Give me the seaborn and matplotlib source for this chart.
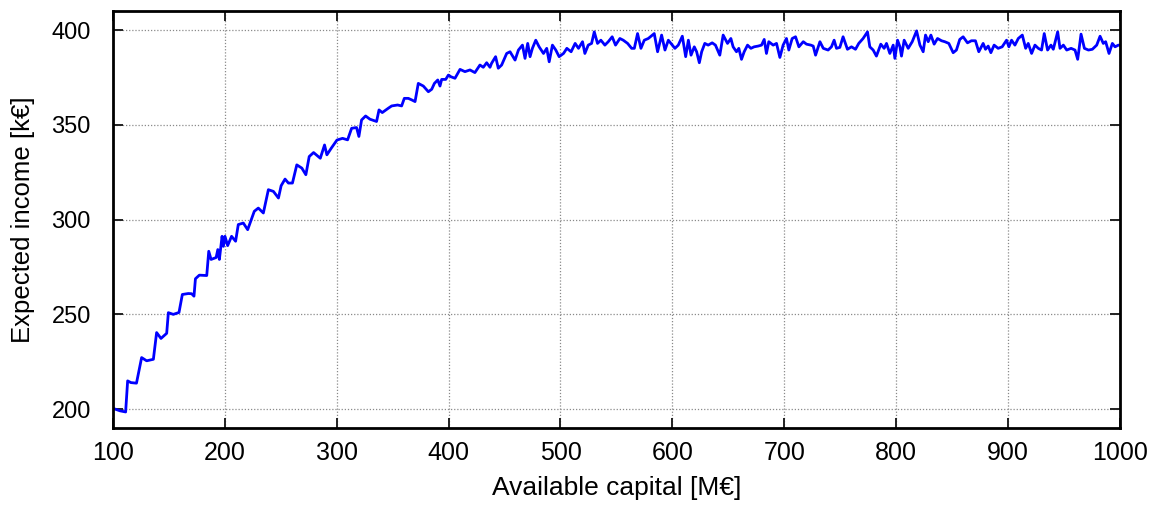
import matplotlib
matplotlib.use("Agg")
import matplotlib.pyplot as plt
import seaborn as sns
import pandas as pd

# Available capital [M€]
capital = [
    100.0, 106.3, 111.3, 113.1, 116.0, 121.0, 125.6, 130.1, 136.1, 139.0, 142.9, 148.0, 149.5, 153.9,
    159.0, 162.0, 167.3, 170.3, 172.4, 173.7, 177.2, 183.8, 185.6, 187.7, 192.2, 193.7, 195.1, 197.5,
    198.7, 200.1, 202.5, 206.0, 209.6, 212.0, 216.5, 220.4, 226.3, 229.9, 234.4, 238.9, 243.4, 247.9,
    250.3, 253.8, 256.8, 260.4, 264.3, 268.8, 272.4, 275.4, 279.3, 285.3, 289.1, 291.2, 295.1, 300.2,
    305.2, 309.7, 313.3, 317.7, 319.8, 322.2, 325.8, 329.7, 335.6, 337.8, 340.7, 346.1, 349.1, 354.4,
    358.0, 360.4, 364.0, 367.0, 370.0, 372.9, 377.4, 381.9, 384.9, 387.3, 390.3, 392.3, 393.8, 397.4,
    399.8, 402.1, 405.7, 410.2, 414.6, 419.1, 423.5, 428.0, 431.0, 434.0, 437.0, 438.4, 442.0, 444.4,
    447.4, 451.9, 454.9, 459.4, 462.4, 466.0, 468.3, 470.7, 472.8, 474.9, 477.9, 480.9, 484.8, 487.7,
    489.9, 492.8, 495.8, 498.8, 502.7, 505.7, 509.5, 513.1, 516.1, 519.7, 521.8, 524.8, 527.8, 530.2,
    533.1, 536.1, 539.7, 542.7, 546.2, 549.2, 553.1, 556.1, 560.0, 563.6, 566.0, 568.9, 571.9, 574.9,
    578.5, 583.8, 586.8, 590.4, 593.4, 596.4, 599.9, 602.3, 605.3, 608.9, 611.9, 614.3, 616.7, 619.6,
    621.7, 624.1, 626.2, 629.0, 632.0, 635.6, 638.5, 642.4, 645.4, 649.3, 652.3, 654.3, 657.3, 659.4,
    661.8, 664.2, 667.2, 670.2, 673.1, 676.7, 679.7, 682.1, 684.1, 686.2, 690.1, 693.1, 696.1, 699.0,
    702.0, 704.1, 707.1, 710.1, 713.1, 717.0, 719.9, 723.8, 725.9, 728.0, 731.9, 734.9, 739.2, 742.2,
    744.6, 746.7, 749.7, 752.6, 756.5, 760.1, 763.7, 766.6, 770.5, 774.4, 776.5, 779.5, 782.4, 786.3,
    789.3, 791.4, 794.4, 797.4, 798.9, 801.3, 803.4, 804.8, 807.2, 810.8, 814.4, 818.3, 821.3, 824.2,
    826.3, 828.7, 831.1, 834.0, 837.0, 840.6, 843.5, 847.1, 851.0, 853.9, 856.9, 859.9, 863.8, 867.3,
    870.9, 873.9, 877.8, 879.9, 882.3, 884.7, 887.6, 891.2, 894.8, 898.7, 900.8, 903.2, 906.2, 909.2,
    912.8, 915.8, 918.1, 921.1, 924.1, 927.1, 930.0, 932.4, 935.4, 938.4, 940.5, 944.4, 946.5, 949.5,
    952.5, 956.4, 959.9, 962.3, 965.3, 968.3, 971.9, 975.4, 979.3, 982.3, 985.2, 987.3, 990.3, 993.3,
    995.7, 998.7, 1000.0,
]

# Expected income [k€]
income = [
    200.4, 199.1, 198.5, 214.9, 214.0, 213.7, 227.2, 225.5, 226.3, 240.4, 237.3, 240.0, 250.9, 250.0,
    251.0, 260.5, 261.0, 260.9, 259.6, 268.8, 270.7, 270.5, 283.3, 279.0, 280.0, 284.2, 279.0, 291.2,
    285.9, 291.2, 286.3, 291.2, 288.6, 297.4, 298.2, 294.7, 304.4, 306.1, 303.5, 315.8, 314.9, 311.4,
    317.9, 321.4, 319.3, 319.3, 328.9, 327.2, 323.7, 333.3, 335.4, 332.4, 339.4, 334.2, 337.7, 342.0,
    342.9, 342.1, 348.2, 348.6, 343.9, 352.6, 354.7, 353.0, 351.8, 357.9, 356.5, 358.8, 360.0, 360.5,
    360.0, 364.0, 364.0, 363.2, 362.3, 371.9, 370.5, 367.5, 368.8, 371.9, 373.7, 370.5, 374.0, 374.0,
    376.3, 375.4, 374.6, 379.3, 378.1, 379.0, 377.6, 381.6, 380.4, 382.8, 380.4, 382.5, 386.0, 379.9,
    381.6, 387.7, 388.6, 384.2, 389.5, 392.1, 385.1, 393.0, 386.0, 390.4, 394.7, 391.2, 387.7, 390.4,
    383.3, 392.1, 389.5, 386.0, 387.7, 390.4, 388.6, 393.0, 390.4, 393.9, 387.7, 392.1, 393.0, 399.1,
    393.0, 394.7, 392.1, 393.9, 396.5, 392.1, 395.6, 394.7, 393.0, 390.4, 390.4, 398.2, 390.4, 394.7,
    395.6, 398.2, 388.6, 397.4, 389.5, 394.7, 392.1, 390.4, 392.1, 396.8, 386.0, 394.7, 386.8, 391.2,
    388.6, 382.8, 388.6, 393.0, 392.1, 393.3, 392.1, 386.8, 397.4, 393.0, 395.6, 391.2, 388.6, 390.4,
    384.6, 388.6, 392.1, 390.4, 391.2, 391.6, 392.1, 395.1, 387.7, 393.9, 392.1, 393.0, 385.6, 392.1,
    395.6, 389.5, 395.6, 396.5, 391.2, 393.9, 392.6, 392.1, 391.6, 386.8, 393.9, 390.4, 389.5, 391.2,
    394.7, 390.4, 390.9, 396.5, 389.9, 391.2, 389.9, 393.0, 395.6, 399.1, 391.2, 389.5, 386.3, 392.6,
    390.4, 393.0, 387.7, 392.1, 385.1, 394.7, 391.2, 386.3, 394.7, 390.4, 393.9, 399.6, 392.1, 388.6,
    397.4, 393.9, 397.4, 392.6, 395.6, 394.4, 393.9, 393.0, 388.1, 389.5, 395.1, 396.5, 393.3, 394.4,
    394.4, 388.6, 393.0, 389.9, 391.6, 388.1, 392.1, 390.4, 391.2, 394.7, 391.2, 394.7, 392.1, 395.6,
    397.4, 390.4, 393.0, 387.7, 392.1, 390.4, 389.5, 398.2, 389.5, 392.1, 389.9, 399.1, 390.4, 392.1,
    389.5, 390.4, 389.5, 384.6, 397.9, 390.4, 389.5, 389.9, 392.1, 396.8, 393.0, 393.9, 387.7, 393.0,
    391.2, 392.1, 392.0,
]

x_ticks = [100, 200, 300, 400, 500, 600, 700, 800, 900, 1000]
y_ticks = [200, 250, 300, 350, 400]

sns.set_theme(style="white")
plt.rcParams["font.family"] = ["Liberation Sans", "DejaVu Sans"]
plt.rcParams["text.color"] = "black"
plt.rcParams["axes.labelcolor"] = "black"

df = pd.DataFrame({"capital": capital, "income": income})

fig = plt.figure(figsize=(11.6, 5.09), dpi=100)
ax = fig.add_axes([0.0974, 0.159, 0.868, 0.819])

sns.lineplot(data=df, x="capital", y="income", ax=ax, color="#0000ff",
             linewidth=2.0, estimator=None, sort=True)

ax.set_xlim(100, 1000)
ax.set_ylim(190, 410)
ax.set_xticks(x_ticks)
ax.set_yticks(y_ticks)
ax.grid(True, color="#8a8a8a", linestyle=(0, (1, 1.5)), linewidth=0.9)
ax.set_axisbelow(True)

for s in ax.spines.values():
    s.set_color("black")
    s.set_linewidth(2.0)

ax.tick_params(axis="both", which="major", direction="in", length=7.5, width=1.4,
               color="#222222", top=True, right=True, bottom=True, left=True)
ax.tick_params(axis="y", labelsize=17, pad=16, labelcolor="black")
ax.tick_params(axis="x", labelsize=18, pad=9, labelcolor="black")

narrow = ["Liberation Sans Narrow", "Liberation Sans", "DejaVu Sans"]
for lab in ax.get_xticklabels():
    lab.set_family(narrow)

ax.set_xlabel("Available capital [M€]", fontsize=19, family=narrow, labelpad=8)
ax.set_ylabel("Expected income [k€]", fontsize=18.5, labelpad=12)

fig.savefig("out.png", dpi=100)
